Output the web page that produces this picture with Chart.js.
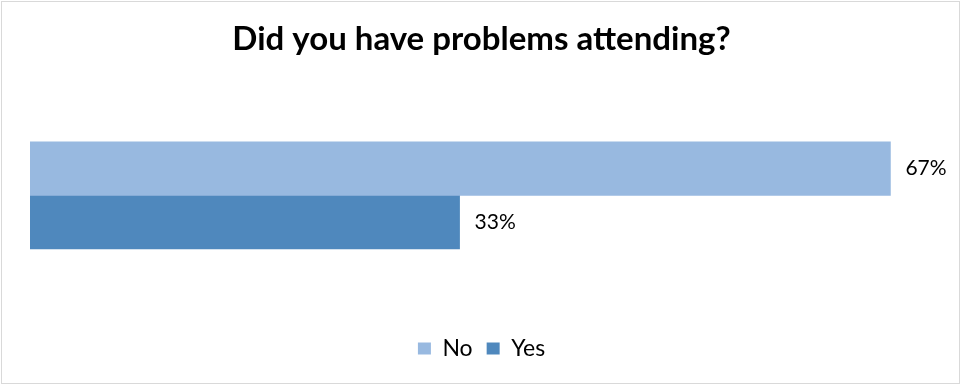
<!DOCTYPE html>
<html>
<head>
<meta charset="utf-8">
<script src="https://cdn.jsdelivr.net/npm/chart.js@4"></script>
<style>
  body { margin: 0; background: #fff; }
  #wrap { position: absolute; left: 0; top: 0; width: 961px; height: 385px; }
  #frame { position: absolute; left: 1px; top: 1px; width: 957px; height: 381px;
           border: 1px solid #d9d9d9; pointer-events: none; }
</style>
</head>
<body>
<div id="wrap"><canvas id="myChart"></canvas></div>
<div id="frame"></div>
<script>
// chart values
var titleText = "Did you have problems attending?";
var categories = [""];
var seriesNames = ["No", "Yes"];
var noValues = [66.7];
var yesValues = [33.3];
var colors = ["#98B9E0", "#4F88BD"];

var font = "Lato";

// value labels at the end of each bar
var barLabels = {
  id: "barLabels",
  afterDatasetsDraw: function(chart) {
    var ctx = chart.ctx;
    ctx.save();
    ctx.font = "21px " + font;
    ctx.fillStyle = "#000";
    ctx.textBaseline = "middle";
    ctx.textAlign = "left";
    chart.data.datasets.forEach(function(ds, i) {
      var meta = chart.getDatasetMeta(i);
      meta.data.forEach(function(bar, j) {
        ctx.fillText(Math.round(ds.data[j]) + "%", bar.x + 15, bar.y);
      });
    });
    ctx.restore();
  }
};

var canvas = document.getElementById("myChart");
var myChart = new Chart(canvas, {
  type: "bar",
  data: {
    labels: categories,
    datasets: [
      { label: seriesNames[0], data: noValues, backgroundColor: colors[0], barThickness: 53.5 },
      { label: seriesNames[1], data: yesValues, backgroundColor: colors[1], barThickness: 53.5 }
    ]
  },
  options: {
    indexAxis: "y",
    responsive: true,
    maintainAspectRatio: false,
    animation: false,
    layout: { padding: { left: 30, right: 28, top: 0, bottom: 15 } },
    scales: {
      x: { display: false, min: 0, max: 70 },
      y: { display: false }
    },
    plugins: {
      title: {
        display: true,
        text: titleText,
        color: "#000",
        font: { family: font, size: 33, weight: "bold" },
        padding: { top: 20, bottom: 8 }
      },
      legend: {
        position: "bottom",
        labels: {
          color: "#000",
          font: { family: font, size: 23 },
          boxWidth: 13,
          boxHeight: 12,
          padding: 14
        }
      },
      tooltip: { enabled: false }
    }
  },
  plugins: [barLabels]
});
</script>
</body>
</html>
